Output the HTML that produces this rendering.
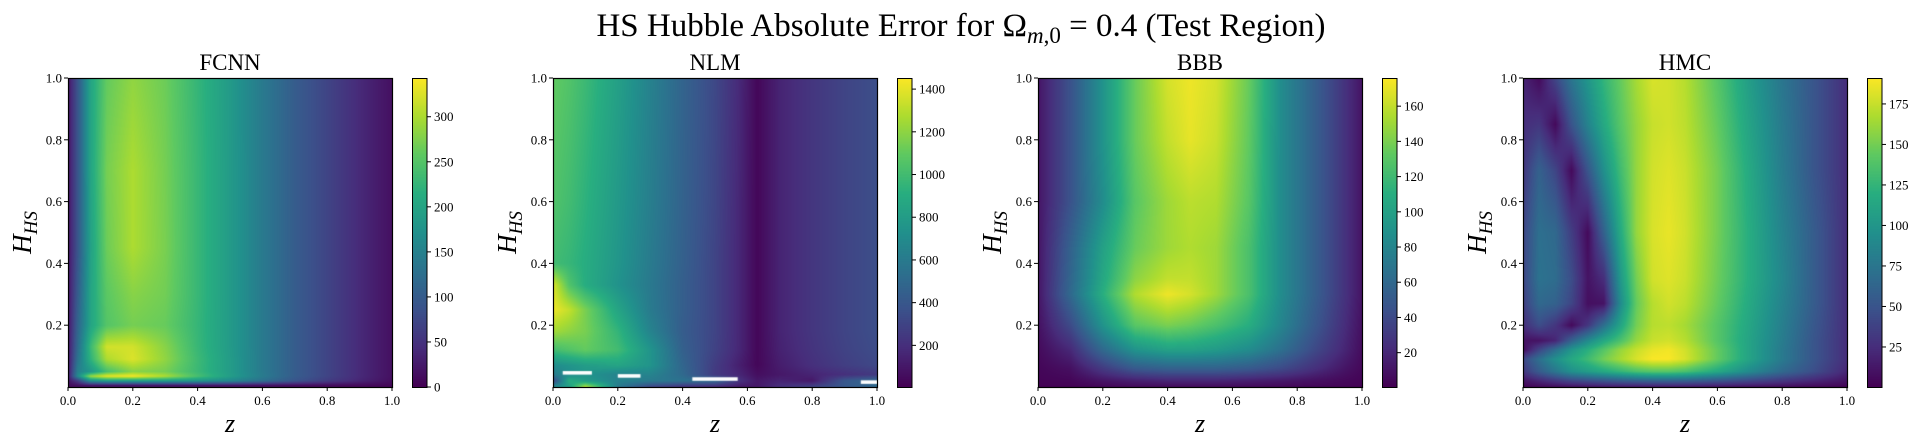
<!DOCTYPE html>
<html><head><meta charset="utf-8"><style>
html,body{margin:0;padding:0;background:#fff;width:1922px;height:448px;overflow:hidden;position:relative}
canvas{position:absolute}
svg{position:absolute;left:0;top:0}
text{font-family:"Liberation Serif",serif;fill:#000}
</style></head><body>
<div id="root"></div>
<svg id="ov" width="1922" height="448"></svg>
<script>
// ---------- DATA ----------
const panelTitles = ["FCNN","NLM","BBB","HMC"];
const xTickLabels = ["0.0","0.2","0.4","0.6","0.8","1.0"];
const xTickValues = [0,0.2,0.4,0.6,0.8,1.0];
const yTickLabels = ["0.2","0.4","0.6","0.8","1.0"];
const yTickValues = [0.2,0.4,0.6,0.8,1.0];

const fcnnRange = [0,343];
const fcnnZ = [0,0.03,0.07,0.12,0.2,0.3,0.4,0.5,0.6,0.7,0.8,0.9,1.0];
const fcnnH = [1.0,0.7,0.45,0.3,0.2,0.13,0.09,0.05,0.035,0.02,0.005];
const fcnnVals = [
[15,90,200,260,285,265,225,185,140,100,70,40,15],
[15,90,200,270,300,270,228,186,140,100,70,40,15],
[15,90,195,265,300,272,228,186,140,100,70,40,15],
[15,100,200,255,280,268,228,186,140,100,70,40,15],
[15,110,200,250,270,262,226,186,140,100,70,40,15],
[15,120,230,320,320,280,228,186,140,100,70,40,15],
[15,130,220,300,325,285,232,188,140,100,70,40,15],
[15,150,180,240,280,270,230,188,140,100,70,40,15],
[15,160,290,330,340,300,240,190,142,100,70,40,15],
[15,60,170,190,190,190,180,160,125,90,60,35,12],
[10,15,20,20,20,20,20,18,15,12,10,8,5]];
const fcnnTicks = [0,50,100,150,200,250,300];

const nlmRange = [5,1452];
const nlmZ = [0,0.05,0.1,0.2,0.3,0.4,0.5,0.58,0.63,0.7,0.8,0.9,1.0];
const nlmH = [1.0,0.6,0.4,0.33,0.25,0.18,0.12,0.07,0.04,0.02,0.0];
const nlmVals = [
[1100,1050,980,820,640,470,320,160,30,150,230,300,350],
[1050,1000,930,780,620,460,310,150,30,150,230,300,350],
[1000,960,900,760,600,450,300,150,30,150,230,300,350],
[1380,1050,900,740,590,440,300,150,30,150,230,300,350],
[1420,1320,1150,850,600,440,300,150,30,150,230,300,350],
[1250,1200,1150,950,650,430,300,150,30,150,230,300,350],
[1000,1050,1100,1000,750,450,290,150,30,140,220,290,340],
[700,750,800,850,750,480,260,120,30,120,200,270,320],
[600,700,750,650,650,500,250,150,60,100,150,200,250],
[300,900,800,650,600,550,500,200,100,150,100,400,500],
[700,800,1300,600,300,200,150,100,100,200,300,400,500]];
const nlmTicks = [200,400,600,800,1000,1200,1400];
// missing (NaN) cells: [zStart, zEnd, H]
const nlmNaNz0 = [0.03,0.2,0.43,0.95];
const nlmNaNz1 = [0.12,0.27,0.57,1.0];
const nlmNaNh = [0.045,0.035,0.025,0.015];

const bbbRange = [0.5,176];
const bbbZ = [0,0.1,0.2,0.3,0.4,0.47,0.55,0.65,0.75,0.85,0.95,1.0];
const bbbH = [1.0,0.8,0.6,0.45,0.35,0.3,0.2,0.12,0.06,0.02,0.0];
const bbbVals = [
[10,45,90,135,165,172,165,135,85,55,25,10],
[10,45,90,135,160,170,162,133,85,55,25,10],
[10,45,85,130,150,158,155,130,85,55,25,10],
[10,55,100,135,150,155,150,125,85,55,25,10],
[10,58,105,145,160,160,150,125,85,55,25,10],
[10,60,110,155,172,165,150,125,85,55,25,10],
[8,40,90,130,140,135,125,110,80,50,22,8],
[5,20,60,90,100,100,95,85,65,40,18,6],
[3,8,30,50,55,55,55,50,40,25,10,4],
[2,3,10,15,18,18,18,15,12,8,4,2],
[1,1,3,5,5,5,5,5,4,3,2,1]];
const bbbTicks = [20,40,60,80,100,120,140,160];

const hmcRange = [0.3,191];
const hmcZ = [0,0.05,0.1,0.15,0.2,0.25,0.3,0.35,0.4,0.45,0.5,0.6,0.7,0.8,0.9,1.0];
const hmcH = [1.0,0.85,0.7,0.5,0.35,0.27,0.2,0.15,0.12,0.09,0.05,0.02,0.0];
const hmcVals = [
[20,5,40,75,100,125,145,165,180,178,170,140,105,75,50,25],
[25,30,5,50,85,115,140,160,175,178,172,145,110,78,50,25],
[30,60,40,5,50,95,130,160,178,182,176,150,115,80,50,25],
[40,70,65,35,5,60,115,160,180,185,178,150,118,85,55,25],
[40,72,68,45,10,25,100,150,178,182,176,148,118,88,55,25],
[35,65,60,40,8,10,90,145,170,178,172,145,115,85,55,25],
[25,45,30,5,30,70,110,150,170,172,165,140,112,82,52,25],
[10,10,20,60,90,115,135,160,175,178,170,140,110,80,50,25],
[5,40,70,100,120,140,160,175,185,188,178,145,110,78,50,25],
[40,70,95,115,130,150,165,180,190,190,180,145,110,78,50,25],
[30,55,75,95,105,115,125,135,140,140,135,115,90,65,45,20],
[10,20,30,40,45,50,55,58,60,60,58,50,40,30,20,10],
[2,4,6,8,10,12,12,12,12,12,12,10,8,6,4,2]];
const hmcTicks = [25,50,75,100,125,150,175];

// ---------- RENDER ----------
const viridis = [[68,1,84],[71,45,123],[59,82,139],[44,114,142],[33,145,140],[40,174,128],[94,201,98],[173,220,48],[253,231,37]];
function cmap(t){t=Math.max(0,Math.min(1,t));const f=t*8,i=Math.min(7,Math.floor(f)),r=f-i;const a=viridis[i],b=viridis[i+1];return [a[0]+(b[0]-a[0])*r,a[1]+(b[1]-a[1])*r,a[2]+(b[2]-a[2])*r];}
function seg(arr,v,desc){
  for(let i=0;i<arr.length-1;i++){const a=arr[i],b=arr[i+1];
    if(desc? (v<=a&&v>=b):(v>=a&&v<=b)) return [i,(v-a)/(b-a)];}
  return [arr.length-2,1];
}
function sample(Z,H,V,z,h){
  const [i,fz]=seg(Z,z,false),[j,fh]=seg(H,h,true);
  const v00=V[j][i],v01=V[j][i+1],v10=V[j+1][i],v11=V[j+1][i+1];
  return (v00*(1-fz)+v01*fz)*(1-fh)+(v10*(1-fz)+v11*fz)*fh;
}
const NS="http://www.w3.org/2000/svg";
const ov=document.getElementById('ov');
function el(tag,attrs,txt){const e=document.createElementNS(NS,tag);for(const k in attrs)e.setAttribute(k,attrs[k]);if(txt!==undefined)e.textContent=txt;ov.appendChild(e);return e;}

const AX_T=78, AX_B=387, AX_W=324, AX_H=309;
const panels=[
 {Z:fcnnZ,H:fcnnH,V:fcnnVals,R:fcnnRange,T:fcnnTicks},
 {Z:nlmZ,H:nlmH,V:nlmVals,R:nlmRange,T:nlmTicks},
 {Z:bbbZ,H:bbbH,V:bbbVals,R:bbbRange,T:bbbTicks},
 {Z:hmcZ,H:hmcH,V:hmcVals,R:hmcRange,T:hmcTicks}];

const st=el('text',{x:961,y:36,'text-anchor':'middle','font-size':33});


st.innerHTML='HS Hubble Absolute Error for Ω<tspan font-style="italic" font-size="23" dy="7">m</tspan><tspan font-size="23">,0</tspan><tspan dy="-7"> = 0.4 (Test Region)</tspan>';

panels.forEach((p,k)=>{
  const L=68+485*k, CB=412+485*k;
  const xs=z=>L+z*AX_W, ys=h=>AX_B-h*AX_H;
  const c=document.createElement('canvas');c.width=AX_W;c.height=AX_H;
  c.style.left=L+'px';c.style.top=AX_T+'px';
  
  
  document.body.insertBefore(c,ov);
  const ctx=c.getContext('2d'),img=ctx.createImageData(AX_W,AX_H);
  for(let y=0;y<AX_H;y++){const h=1-(y+0.5)/AX_H;
    for(let x=0;x<AX_W;x++){const z=(x+0.5)/AX_W;
      const v=sample(p.Z,p.H,p.V,z,h),col=cmap((v-p.R[0])/(p.R[1]-p.R[0]));
      const o=(y*AX_W+x)*4;img.data[o]=col[0];img.data[o+1]=col[1];img.data[o+2]=col[2];img.data[o+3]=255;}}
  ctx.putImageData(img,0,0);
  if(k===1){ctx.fillStyle='#fff';
    for(let n=0;n<nlmNaNh.length;n++){const x0=nlmNaNz0[n]*AX_W,x1=nlmNaNz1[n]*AX_W,yc=(1-nlmNaNh[n])*AX_H;ctx.fillRect(x0,yc-2,x1-x0,3.5);}}
  const cb=document.createElement('canvas');cb.width=15;cb.height=AX_H;
  cb.style.left=CB+'px';cb.style.top=AX_T+'px';
  
  
  document.body.insertBefore(cb,ov);
  const cc=cb.getContext('2d');
  for(let y=0;y<AX_H;y++){const col=cmap(1-(y+0.5)/AX_H);cc.fillStyle=`rgb(${col[0]|0},${col[1]|0},${col[2]|0})`;cc.fillRect(0,y,15,1);}
  el('rect',{x:CB+0.5,y:AX_T+0.5,width:14.5,height:AX_H,fill:'none',stroke:'#000','stroke-width':1,});
  p.T.forEach(t=>{const y=AX_B-(t-p.R[0])/(p.R[1]-p.R[0])*AX_H;
    const ln=el('line',{x1:CB+15,x2:CB+19,y1:y,y2:y,stroke:'#000','stroke-width':1});
    
    
    const tx=el('text',{x:CB+22,y:y+4.5,'font-size':13},String(t));
    
    });
  el('rect',{x:L+0.5,y:AX_T+0.5,width:AX_W,height:AX_H,fill:'none',stroke:'#000','stroke-width':1.2,});
  xTickValues.forEach((v,i)=>{const x=xs(v);
    const ln=el('line',{x1:x,x2:x,y1:AX_B,y2:AX_B+4,stroke:'#000','stroke-width':1});
    
    
    const tx=el('text',{x:x,y:AX_B+18,'text-anchor':'middle','font-size':13},xTickLabels[i]);
    
    });
  yTickValues.forEach((v,i)=>{const y=ys(v);
    const ln=el('line',{x1:L-4,x2:L,y1:y,y2:y,stroke:'#000','stroke-width':1});
    
    
    const tx=el('text',{x:L-6,y:y+4.5,'text-anchor':'end','font-size':13},yTickLabels[i]);
    
    });
  const ti=el('text',{x:L+AX_W/2,y:70,'text-anchor':'middle','font-size':23},panelTitles[k]);
  
  
  const xl=el('text',{x:L+AX_W/2,y:432,'text-anchor':'middle','font-size':26,'font-style':'italic'},'z');
  
  
  const yl=el('text',{x:0,y:0,'text-anchor':'middle','font-size':27,'font-style':'italic',transform:`translate(${L-37},${(AX_T+AX_B)/2}) rotate(-90)`});
  
  
  yl.innerHTML='H<tspan font-size="19" dy="6">HS</tspan>';
});
</script>
</body></html>
